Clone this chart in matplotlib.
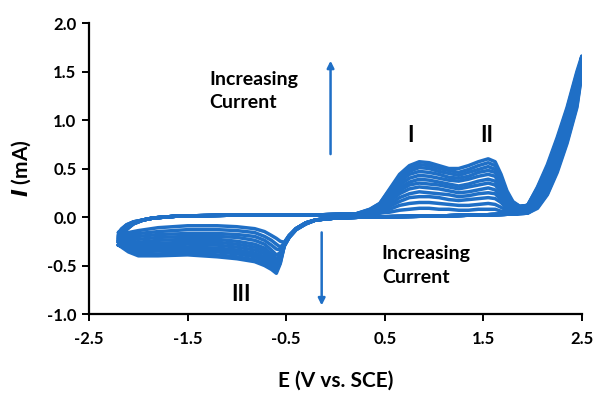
import matplotlib
matplotlib.use("Agg")
import matplotlib.pyplot as plt

plt.rcParams['font.family'] = ['Lato', 'DejaVu Sans']
plt.rcParams['font.weight'] = 'bold'

blue = '#1f6fc6'

# ---- anodic sweep (-2.2 V -> 2.5 V) ----
E_an_turn = [-2.2, -2.17, -2.12, -2.05, -1.95, -1.85]
E_an_flat = [-1.6, -1.0, -0.3, 0.2]
I_an_flat = [0.01, 0.02, 0.02, 0.03]
E_an_peak = [0.35, 0.45, 0.55, 0.65, 0.75, 0.85, 0.95, 1.05, 1.15, 1.25,
             1.35, 1.45, 1.55, 1.62, 1.68, 1.74, 1.8, 1.87, 1.95]
E_an_rise = [2.05, 2.15, 2.25, 2.35, 2.45, 2.5]

# ---- cathodic sweep (2.5 V -> -2.2 V) ----
E_ca_fall = [2.45, 2.35, 2.25, 2.15, 2.05, 1.95]
E_ca_flat = [1.8, 1.0, 0.3, 0.0, -0.2]
I_ca_flat = [0.03, 0.01, 0.0, -0.01, -0.03]
E_ca_peak = [-0.3, -0.4, -0.47, -0.52, -0.56, -0.60, -0.65, -0.72, -0.82,
             -1.0, -1.2, -1.5, -1.8, -2.0, -2.1, -2.2]

# per-cycle currents (mA), first cycle -> last cycle
I_an_turn = [
    [-0.16, -0.12, -0.08, -0.05, -0.03, -0.01],
    [-0.18, -0.13, -0.08, -0.05, -0.03, -0.01],
    [-0.19, -0.14, -0.09, -0.05, -0.03, -0.01],
    [-0.20, -0.15, -0.09, -0.06, -0.03, -0.01],
    [-0.21, -0.16, -0.10, -0.06, -0.03, -0.01],
    [-0.22, -0.17, -0.10, -0.06, -0.03, -0.01],
    [-0.23, -0.17, -0.11, -0.06, -0.03, -0.01],
    [-0.24, -0.18, -0.11, -0.06, -0.03, -0.01],
    [-0.25, -0.19, -0.12, -0.07, -0.03, -0.01],
    [-0.26, -0.20, -0.12, -0.07, -0.03, -0.01],
    [-0.28, -0.21, -0.13, -0.07, -0.03, -0.01],
    [-0.29, -0.22, -0.13, -0.07, -0.03, -0.01],
]
I_an_peak = [
    [0.03, 0.04, 0.05, 0.07, 0.08, 0.09, 0.09, 0.08, 0.08, 0.07, 0.07, 0.08, 0.08, 0.08, 0.06, 0.05, 0.05, 0.06, 0.09],
    [0.03, 0.04, 0.08, 0.12, 0.14, 0.15, 0.15, 0.14, 0.13, 0.12, 0.12, 0.13, 0.14, 0.13, 0.10, 0.07, 0.06, 0.07, 0.10],
    [0.03, 0.05, 0.11, 0.16, 0.20, 0.21, 0.21, 0.20, 0.18, 0.17, 0.18, 0.19, 0.20, 0.19, 0.15, 0.09, 0.07, 0.08, 0.10],
    [0.04, 0.07, 0.13, 0.20, 0.24, 0.26, 0.25, 0.24, 0.23, 0.21, 0.22, 0.24, 0.25, 0.24, 0.18, 0.11, 0.08, 0.09, 0.11],
    [0.04, 0.08, 0.16, 0.24, 0.29, 0.31, 0.30, 0.29, 0.27, 0.25, 0.26, 0.28, 0.30, 0.28, 0.22, 0.14, 0.09, 0.09, 0.11],
    [0.05, 0.09, 0.18, 0.27, 0.33, 0.35, 0.34, 0.33, 0.31, 0.29, 0.31, 0.33, 0.35, 0.33, 0.26, 0.16, 0.10, 0.10, 0.11],
    [0.05, 0.10, 0.20, 0.30, 0.36, 0.39, 0.38, 0.36, 0.34, 0.32, 0.34, 0.37, 0.39, 0.37, 0.28, 0.18, 0.11, 0.10, 0.12],
    [0.06, 0.11, 0.22, 0.33, 0.40, 0.43, 0.42, 0.40, 0.38, 0.37, 0.39, 0.42, 0.44, 0.42, 0.32, 0.20, 0.12, 0.10, 0.12],
    [0.07, 0.12, 0.24, 0.36, 0.44, 0.47, 0.46, 0.44, 0.41, 0.40, 0.42, 0.46, 0.48, 0.46, 0.35, 0.22, 0.13, 0.10, 0.12],
    [0.07, 0.13, 0.26, 0.39, 0.47, 0.51, 0.50, 0.47, 0.45, 0.43, 0.46, 0.49, 0.52, 0.49, 0.38, 0.23, 0.14, 0.11, 0.12],
    [0.08, 0.14, 0.28, 0.42, 0.50, 0.54, 0.53, 0.50, 0.48, 0.46, 0.49, 0.53, 0.56, 0.53, 0.41, 0.25, 0.15, 0.11, 0.12],
    [0.08, 0.14, 0.29, 0.44, 0.53, 0.57, 0.56, 0.53, 0.50, 0.50, 0.53, 0.57, 0.60, 0.57, 0.44, 0.27, 0.16, 0.11, 0.12],
]
I_an_rise = [
    [0.18, 0.36, 0.62, 0.92, 1.26, 1.48],
    [0.19, 0.38, 0.64, 0.94, 1.28, 1.50],
    [0.20, 0.39, 0.66, 0.96, 1.30, 1.52],
    [0.22, 0.41, 0.67, 0.98, 1.33, 1.53],
    [0.23, 0.43, 0.69, 1.00, 1.35, 1.55],
    [0.24, 0.44, 0.71, 1.02, 1.37, 1.57],
    [0.25, 0.46, 0.73, 1.04, 1.39, 1.58],
    [0.26, 0.47, 0.75, 1.05, 1.41, 1.60],
    [0.27, 0.49, 0.76, 1.07, 1.44, 1.61],
    [0.29, 0.51, 0.78, 1.09, 1.46, 1.63],
    [0.30, 0.52, 0.80, 1.11, 1.48, 1.64],
    [0.31, 0.54, 0.82, 1.13, 1.50, 1.66],
]
I_ca_fall = [
    [1.13, 0.76, 0.46, 0.23, 0.09, 0.04],
    [1.15, 0.78, 0.48, 0.24, 0.10, 0.04],
    [1.17, 0.80, 0.50, 0.25, 0.11, 0.04],
    [1.20, 0.82, 0.52, 0.27, 0.12, 0.05],
    [1.22, 0.84, 0.54, 0.28, 0.12, 0.05],
    [1.25, 0.87, 0.56, 0.30, 0.13, 0.05],
    [1.27, 0.89, 0.58, 0.32, 0.14, 0.05],
    [1.30, 0.91, 0.60, 0.33, 0.15, 0.06],
    [1.32, 0.93, 0.62, 0.35, 0.16, 0.06],
    [1.35, 0.96, 0.64, 0.36, 0.17, 0.06],
    [1.37, 0.98, 0.66, 0.38, 0.18, 0.07],
    [1.40, 1.00, 0.68, 0.40, 0.19, 0.07],
]
I_ca_peak = [
    [-0.06, -0.12, -0.19, -0.26, -0.25, -0.22, -0.19, -0.15, -0.12, -0.10, -0.09, -0.09, -0.11, -0.14, -0.16, -0.16],
    [-0.06, -0.12, -0.19, -0.27, -0.31, -0.28, -0.24, -0.20, -0.16, -0.14, -0.13, -0.13, -0.15, -0.17, -0.18, -0.18],
    [-0.06, -0.12, -0.19, -0.27, -0.34, -0.33, -0.29, -0.24, -0.20, -0.18, -0.17, -0.17, -0.18, -0.20, -0.20, -0.19],
    [-0.06, -0.12, -0.20, -0.28, -0.37, -0.39, -0.34, -0.28, -0.24, -0.21, -0.20, -0.20, -0.21, -0.23, -0.22, -0.20],
    [-0.06, -0.12, -0.20, -0.28, -0.39, -0.43, -0.38, -0.32, -0.28, -0.25, -0.23, -0.23, -0.24, -0.26, -0.24, -0.21],
    [-0.06, -0.12, -0.20, -0.28, -0.41, -0.46, -0.41, -0.35, -0.31, -0.28, -0.26, -0.26, -0.27, -0.28, -0.26, -0.22],
    [-0.06, -0.12, -0.20, -0.29, -0.42, -0.49, -0.44, -0.38, -0.34, -0.31, -0.29, -0.28, -0.29, -0.30, -0.28, -0.23],
    [-0.07, -0.12, -0.20, -0.29, -0.43, -0.51, -0.46, -0.41, -0.37, -0.34, -0.32, -0.31, -0.31, -0.32, -0.30, -0.24],
    [-0.07, -0.13, -0.21, -0.29, -0.44, -0.53, -0.48, -0.43, -0.39, -0.36, -0.34, -0.33, -0.33, -0.34, -0.31, -0.25],
    [-0.07, -0.13, -0.21, -0.30, -0.45, -0.55, -0.50, -0.45, -0.41, -0.38, -0.36, -0.35, -0.35, -0.36, -0.33, -0.26],
    [-0.07, -0.13, -0.21, -0.30, -0.47, -0.56, -0.52, -0.48, -0.44, -0.41, -0.39, -0.37, -0.38, -0.38, -0.35, -0.28],
    [-0.07, -0.13, -0.21, -0.30, -0.48, -0.58, -0.54, -0.50, -0.46, -0.43, -0.41, -0.39, -0.40, -0.40, -0.36, -0.29],
]

x_ticks = [-2.5, -1.5, -0.5, 0.5, 1.5, 2.5]
y_ticks = [-1.0, -0.5, 0.0, 0.5, 1.0, 1.5, 2.0]

fig = plt.figure(figsize=(5.98, 3.97), dpi=100)
ax = fig.add_axes([0.149, 0.209, 0.824, 0.733])

E_cycle = E_an_turn + E_an_flat + E_an_peak + E_an_rise + E_ca_fall + E_ca_flat + E_ca_peak
for k in range(len(I_an_peak)):
    I_cycle = (I_an_turn[k] + I_an_flat + I_an_peak[k] + I_an_rise[k]
               + I_ca_fall[k] + I_ca_flat + I_ca_peak[k])
    ax.plot(E_cycle, I_cycle, color=blue, lw=2.5, solid_joinstyle='round')

ax.set_xlim(-2.5, 2.5)
ax.set_ylim(-1.0, 2.0)
ax.set_xticks(x_ticks)
ax.set_yticks(y_ticks)
ax.set_xticklabels([f"{v:.1f}" for v in x_ticks])
ax.set_yticklabels([f"{v:.1f}" for v in y_ticks])
for s in ['top', 'right']:
    ax.spines[s].set_visible(False)
for s in ['left', 'bottom']:
    ax.spines[s].set_linewidth(1.6)
ax.tick_params(axis='both', direction='out', length=5, width=1.4, labelsize=12, pad=4)
ax.tick_params(axis='x', pad=7)

ax.set_xlabel("E (V vs. SCE)", fontsize=15, fontweight='bold', labelpad=17)
ax.set_ylabel(r"$\bfit{I}$ (mA)", fontsize=15, fontweight='bold', labelpad=10)

# arrows
ax.annotate("", xy=(-0.05, 1.64), xytext=(-0.05, 0.62),
            arrowprops=dict(arrowstyle='-|>', color=blue, lw=1.8, mutation_scale=10))
ax.annotate("", xy=(-0.14, -0.94), xytext=(-0.14, -0.13),
            arrowprops=dict(arrowstyle='-|>', color=blue, lw=1.8, mutation_scale=10))

ax.text(-1.28, 1.30, "Increasing\nCurrent", fontsize=14, fontweight='bold',
        ha='left', va='center', linespacing=1.45)
ax.text(0.47, -0.50, "Increasing\nCurrent", fontsize=14, fontweight='bold',
        ha='left', va='center', linespacing=1.45)

ax.text(0.76, 0.84, "I", fontsize=16, fontweight='bold', ha='center', va='center')
ax.text(1.54, 0.84, "II", fontsize=16, fontweight='bold', ha='center', va='center')
ax.text(-0.96, -0.80, "III", fontsize=16, fontweight='bold', ha='center', va='center')

fig.savefig("out.png", dpi=100)
